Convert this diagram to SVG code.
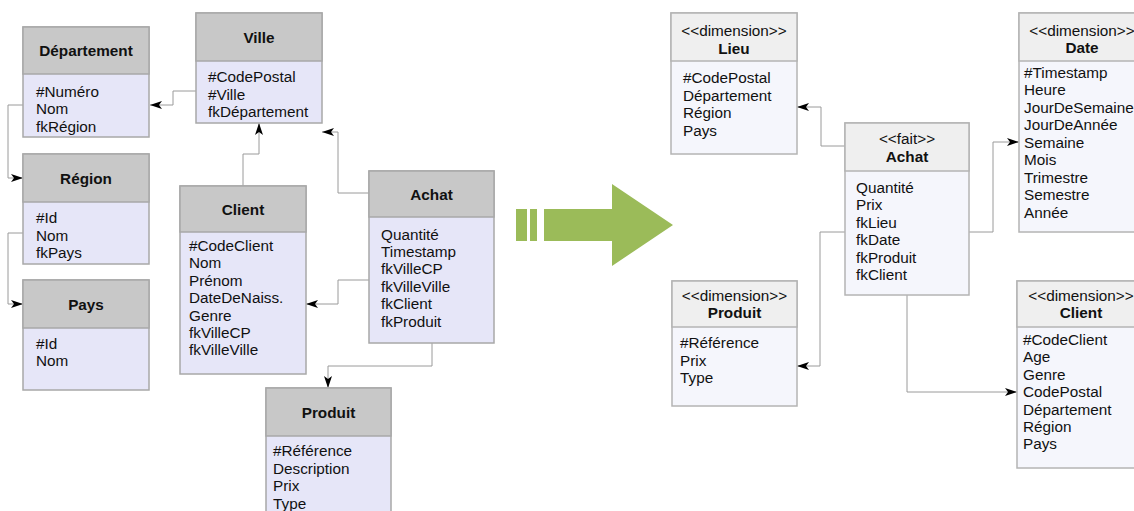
<svg xmlns="http://www.w3.org/2000/svg" width="1134" height="511" viewBox="0 0 1134 511">
<defs>
<marker id="ah" viewBox="0 0 12 8" refX="12" refY="4" markerWidth="12" markerHeight="8" markerUnits="userSpaceOnUse" orient="auto">
<path d="M0,0 L12,4 L0,8 L3,4 Z" fill="#000"/>
</marker>
</defs>
<style>
text{font-family:"Liberation Sans",Arial,sans-serif;font-size:15.3px;fill:#111}
.t{font-weight:bold;text-anchor:middle}
.s{text-anchor:middle}
.hl{fill:#c8c8c8;stroke:#a8a8a8;stroke-width:1.5}
.bl{fill:#e6e6f8;stroke:#a8a8a8;stroke-width:1.5}
.hr{fill:#efefef;stroke:#b4b4b4;stroke-width:1.5}
.br{fill:#f5f6fc;stroke:#b4b4b4;stroke-width:1.5}
.c{fill:none;stroke:#9a9a9a;stroke-width:1;marker-end:url(#ah)}
</style>
<rect width="1134" height="511" fill="#fff"/>

<g id="connectors">
<path class="c" d="M196,91 H173 V105 H150"/>
<path class="c" d="M23,105 H8 V178 H23"/>
<path class="c" d="M23,233 H8 V304 H23"/>
<path class="c" d="M243,186 V154 H259 V123"/>
<path class="c" d="M369,193 H338 V132 H322"/>
<path class="c" d="M369,280 H338 V304 H306"/>
<path class="c" d="M432,343 V366 H328 V388"/>
<path class="c" d="M845,146 H821 V107 H797"/>
<path class="c" d="M969,232 H993 V142 H1019"/>
<path class="c" d="M845,232 H820 V366 H797"/>
<path class="c" d="M907,295 V392 H1017"/>
</g>

<g id="transform-arrow" fill="#9bbb59">
<rect x="516" y="209" width="11" height="32"/>
<rect x="530" y="209" width="7" height="32"/>
<polygon points="544,209 612,209 612,184 673,225 612,266 612,241 544,241"/>
</g>

<g id="departement">
<rect class="bl" x="23" y="27" width="126" height="110"/>
<rect class="hl" x="23" y="27" width="126" height="47"/>
<text class="t" x="86" y="56">Département</text>
<text x="36" y="96.5">#Numéro</text>
<text x="36" y="114">Nom</text>
<text x="36" y="131.5">fkRégion</text>
</g>

<g id="ville">
<rect class="bl" x="196" y="13" width="126" height="110"/>
<rect class="hl" x="196" y="13" width="126" height="48"/>
<text class="t" x="259" y="43">Ville</text>
<text x="208" y="82">#CodePostal</text>
<text x="208" y="99.5">#Ville</text>
<text x="208" y="117">fkDépartement</text>
</g>

<g id="region">
<rect class="bl" x="23" y="154" width="126" height="110"/>
<rect class="hl" x="23" y="154" width="126" height="48"/>
<text class="t" x="86" y="184">Région</text>
<text x="36" y="223">#Id</text>
<text x="36" y="240.5">Nom</text>
<text x="36" y="258">fkPays</text>
</g>

<g id="pays">
<rect class="bl" x="23" y="280" width="126" height="110"/>
<rect class="hl" x="23" y="280" width="126" height="48"/>
<text class="t" x="86" y="310">Pays</text>
<text x="36" y="348.5">#Id</text>
<text x="36" y="366">Nom</text>
</g>

<g id="client">
<rect class="bl" x="180" y="186" width="126" height="188"/>
<rect class="hl" x="180" y="186" width="126" height="46"/>
<text class="t" x="243" y="215">Client</text>
<text x="189" y="251">#CodeClient</text>
<text x="189" y="268.4">Nom</text>
<text x="189" y="285.8">Prénom</text>
<text x="189" y="303.2">DateDeNaiss.</text>
<text x="189" y="320.6">Genre</text>
<text x="189" y="338">fkVilleCP</text>
<text x="189" y="355.4">fkVilleVille</text>
</g>

<g id="achat">
<rect class="bl" x="369" y="171" width="125" height="172"/>
<rect class="hl" x="369" y="171" width="125" height="46"/>
<text class="t" x="431.5" y="199.5">Achat</text>
<text x="381" y="239.5">Quantité</text>
<text x="381" y="256.9">Timestamp</text>
<text x="381" y="274.3">fkVilleCP</text>
<text x="381" y="291.7">fkVilleVille</text>
<text x="381" y="309.1">fkClient</text>
<text x="381" y="326.5">fkProduit</text>
</g>

<g id="produit">
<rect class="bl" x="266" y="388" width="125" height="140"/>
<rect class="hl" x="266" y="388" width="125" height="48"/>
<text class="t" x="328.5" y="417.5">Produit</text>
<text x="273" y="456">#Référence</text>
<text x="273" y="473.5">Description</text>
<text x="273" y="491">Prix</text>
<text x="273" y="508.5">Type</text>
</g>

<g id="dim-lieu">
<rect class="br" x="671" y="13" width="126" height="141"/>
<rect class="hr" x="671" y="13" width="126" height="48"/>
<text class="s" x="734" y="35.5">&lt;&lt;dimension&gt;&gt;</text>
<text class="t" x="734" y="53.5">Lieu</text>
<text x="683" y="83">#CodePostal</text>
<text x="683" y="100.6">Département</text>
<text x="683" y="118.2">Région</text>
<text x="683" y="135.8">Pays</text>
</g>

<g id="fait-achat">
<rect class="br" x="845" y="123" width="124" height="172"/>
<rect class="hr" x="845" y="123" width="124" height="48"/>
<text class="s" x="907" y="144">&lt;&lt;fait&gt;&gt;</text>
<text class="t" x="907" y="161.5">Achat</text>
<text x="856" y="193">Quantité</text>
<text x="856" y="210.4">Prix</text>
<text x="856" y="227.8">fkLieu</text>
<text x="856" y="245.2">fkDate</text>
<text x="856" y="262.6">fkProduit</text>
<text x="856" y="280">fkClient</text>
</g>

<g id="dim-date">
<rect class="br" x="1019" y="13" width="126" height="219"/>
<rect class="hr" x="1019" y="13" width="126" height="48"/>
<text class="s" x="1082" y="35.5">&lt;&lt;dimension&gt;&gt;</text>
<text class="t" x="1082" y="52.5">Date</text>
<text x="1024" y="77.5">#Timestamp</text>
<text x="1024" y="95">Heure</text>
<text x="1024" y="112.5">JourDeSemaine</text>
<text x="1024" y="130">JourDeAnnée</text>
<text x="1024" y="147.5">Semaine</text>
<text x="1024" y="165">Mois</text>
<text x="1024" y="182.5">Trimestre</text>
<text x="1024" y="200">Semestre</text>
<text x="1024" y="217.5">Année</text>
</g>

<g id="dim-produit">
<rect class="br" x="672" y="281" width="125" height="125"/>
<rect class="hr" x="672" y="281" width="125" height="46"/>
<text class="s" x="734.5" y="300.5">&lt;&lt;dimension&gt;&gt;</text>
<text class="t" x="734.5" y="318">Produit</text>
<text x="680" y="348">#Référence</text>
<text x="680" y="365.5">Prix</text>
<text x="680" y="383">Type</text>
</g>

<g id="dim-client">
<rect class="br" x="1017" y="281" width="128" height="187"/>
<rect class="hr" x="1017" y="281" width="128" height="46"/>
<text class="s" x="1081" y="300.5">&lt;&lt;dimension&gt;&gt;</text>
<text class="t" x="1081" y="318">Client</text>
<text x="1023" y="345">#CodeClient</text>
<text x="1023" y="362.4">Age</text>
<text x="1023" y="379.8">Genre</text>
<text x="1023" y="397.2">CodePostal</text>
<text x="1023" y="414.6">Département</text>
<text x="1023" y="432">Région</text>
<text x="1023" y="449.4">Pays</text>
</g>
</svg>
